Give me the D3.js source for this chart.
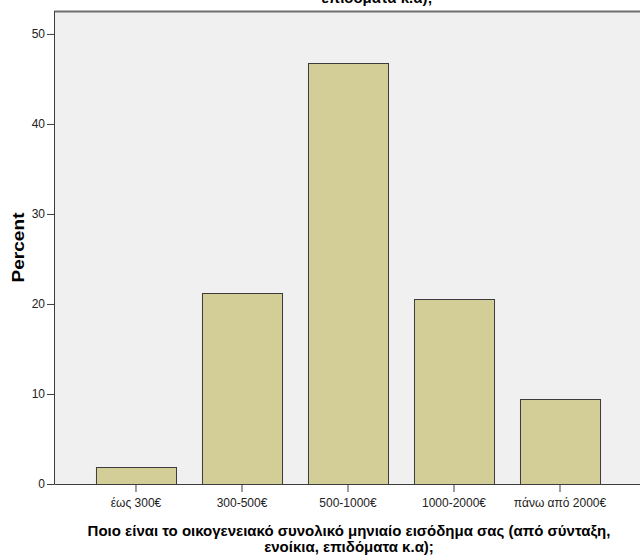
<!DOCTYPE html>
<html>
<head>
<meta charset="utf-8">
<script src="https://cdn.jsdelivr.net/npm/d3@7"></script>
<style>
  body { margin: 0; background: #fff; }
  text { font-family: "Liberation Sans", Arial, sans-serif; }
  .title { font-weight: bold; }
</style>
</head>
<body>
<script>
var categories = ["έως 300€", "300-500€", "500-1000€", "1000-2000€", "πάνω από 2000€"];
var percents = [1.9, 21.2, 46.8, 20.6, 9.4];
var yTicks = [0, 10, 20, 30, 40, 50];
var xTitle = ["Ποιο είναι το οικογενειακό συνολικό μηνιαίο εισόδημα σας (από σύνταξη,", "ενοίκια, επιδόματα κ.α);"];
var topTitle = "επιδόματα κ.α);";
var yTitle = "Percent";

var W = 640, H = 560;
var margin = {top: 11, right: -2, bottom: 76, left: 54};
var width = W - margin.left - margin.right,
    height = H - margin.top - margin.bottom;

var data = categories.map(function(c, i) { return {cat: c, value: percents[i]}; });

var x = d3.scaleBand()
    .domain(categories)
    .range([0, width])
    .paddingInner(0.245)
    .paddingOuter(0.396);

// 50 sits at y=34 with the frame top at 11
var y = d3.scaleLinear()
    .domain([0, 52.55])
    .range([height, 0]);

var svg = d3.select("body").append("svg")
    .attr("width", W)
    .attr("height", H);

// chart title, cut by the top edge like in the original export
svg.append("text")
    .attr("class", "title")
    .attr("x", 377)
    .attr("y", 3)
    .attr("text-anchor", "middle")
    .style("font-size", "15px")
    .text(topTitle);

var g = svg.append("g")
    .attr("transform", "translate(" + margin.left + "," + margin.top + ")");

g.append("rect")
    .attr("width", width)
    .attr("height", height)
    .attr("fill", "#f0f0f0");

g.append("line")
    .attr("x1", 0).attr("x2", width)
    .attr("y1", 0.5).attr("y2", 0.5)
    .attr("stroke", "#6e6e6e")
    .attr("stroke-width", 2);

g.selectAll(".bar")
    .data(data)
  .enter().append("rect")
    .attr("class", "bar")
    .attr("x", function(d) { return x(d.cat) + 0.5; })
    .attr("y", function(d) { return Math.round(y(d.value)) + 0.5; })
    .attr("width", x.bandwidth())
    .attr("height", function(d) { return height - Math.round(y(d.value)); })
    .attr("fill", "#d3ce98")
    .attr("stroke", "#3c3c3c")
    .attr("stroke-width", 1);

var yAxis = d3.axisLeft(y)
    .tickValues(yTicks)
    .tickSize(7)
    .tickPadding(2)
    .tickSizeOuter(0);

var yg = g.append("g")
    .attr("class", "y axis")
    .call(yAxis);
yg.select(".domain").attr("stroke", "#3c3c3c");
yg.selectAll(".tick line").attr("stroke", "#3c3c3c");
yg.selectAll(".tick text").style("font-size", "12px").attr("fill", "#222");

var xAxis = d3.axisBottom(x)
    .tickSize(8)
    .tickPadding(6)
    .tickSizeOuter(0);

var xg = g.append("g")
    .attr("class", "x axis")
    .attr("transform", "translate(0," + height + ")")
    .call(xAxis);
xg.select(".domain").attr("stroke", "#3c3c3c");
xg.selectAll(".tick line").attr("stroke", "#3c3c3c");
xg.selectAll(".tick text").style("font-size", "12px").attr("fill", "#222");

svg.append("text")
    .attr("class", "title")
    .attr("transform", "translate(24," + (margin.top + height / 2) + ") rotate(-90)")
    .attr("text-anchor", "middle")
    .attr("textLength", 70)
    .attr("lengthAdjust", "spacingAndGlyphs")
    .style("font-size", "17px")
    .text(yTitle);

svg.selectAll(".xtitle")
    .data(xTitle)
  .enter().append("text")
    .attr("class", "title")
    .attr("x", 349)
    .attr("y", function(d, i) { return 536 + i * 16; })
    .attr("text-anchor", "middle")
    .style("font-size", "15px")
    .text(function(d) { return d; });
</script>
</body>
</html>
